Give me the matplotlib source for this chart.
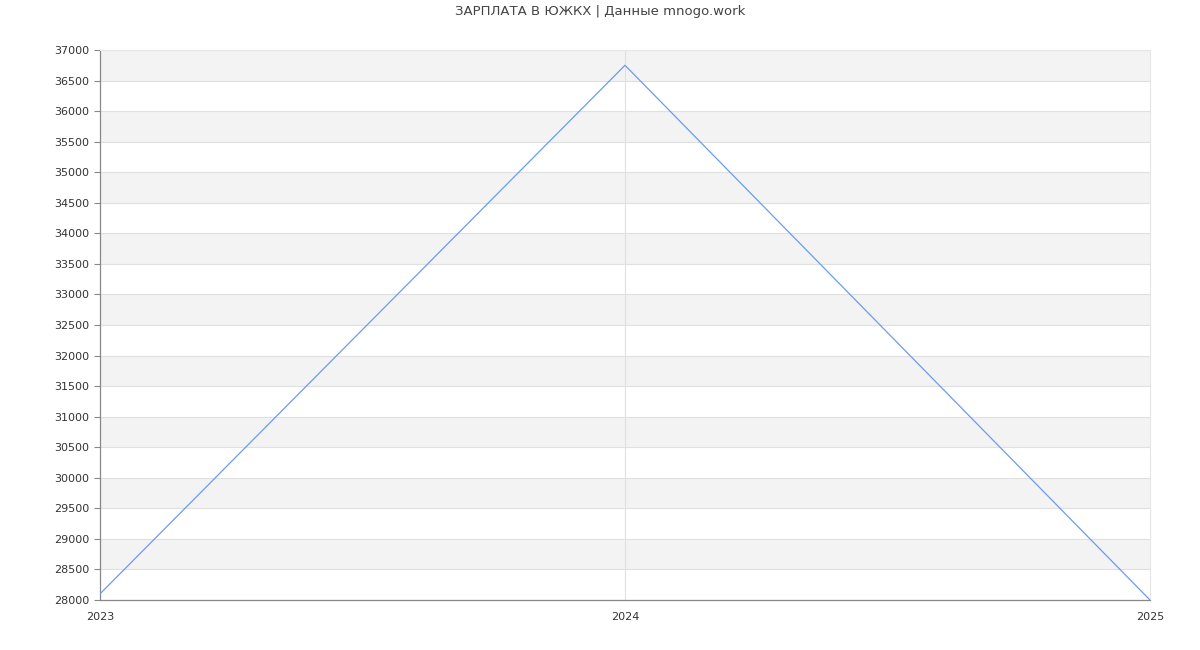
import matplotlib
matplotlib.use("Agg")
import matplotlib.pyplot as plt

years = [2023, 2024, 2025]
salary = [28100, 36750, 28000]
yticks = list(range(28000, 37001, 500))

fig = plt.figure(figsize=(12, 6.5), dpi=100)
ax = fig.add_axes([100 / 1200, 1 - 600 / 650, 1050 / 1200, 550 / 650])

# alternating bands
for lo in range(28500, 37000, 1000):
    ax.axhspan(lo, lo + 500, color="#f3f3f3", zorder=0, lw=0)
for y in yticks:
    ax.axhline(y, color="#e0e0e0", lw=0.8, zorder=1)
ax.axvline(2024, color="#e0e0e0", lw=0.8, zorder=1)

ax.plot(years, salary, color="#6a9cf0", lw=0.9, zorder=3)

ax.set_xlim(2023, 2025)
ax.set_ylim(28000, 37000)
ax.set_yticks(yticks)
ax.set_xticks(years)
ax.set_xticklabels([str(y) for y in years])
ax.tick_params(axis="both", labelsize=8, colors="#333333", length=4)
ax.tick_params(axis="x", length=0, pad=9)
ax.tick_params(axis="y", color="#888888")

for s in ["top", "right"]:
    ax.spines[s].set_color("#e6e6e6")
    ax.spines[s].set_linewidth(0.8)
for s in ["left", "bottom"]:
    ax.spines[s].set_color("#888888")
    ax.spines[s].set_linewidth(0.9)

fig.text(0.5, 1 - 12 / 650, "ЗАРПЛАТА В ЮЖКХ | Данные mnogo.work",
         ha="center", va="center", fontsize=9.5, color="#444444")

fig.savefig("out.png", dpi=100)
